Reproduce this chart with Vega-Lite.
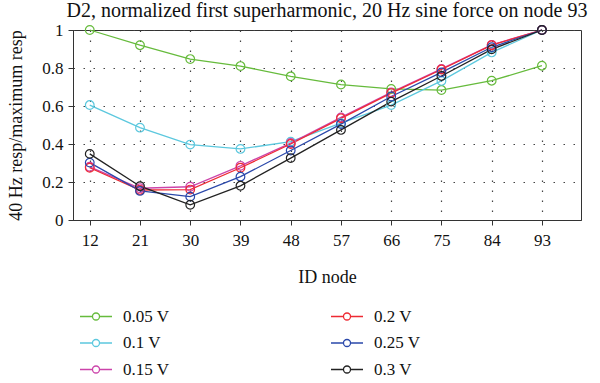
{
  "$schema": "https://vega.github.io/schema/vega-lite/v6.json",
  "width": 508,
  "height": 190,
  "autosize": {"type": "none"},
  "padding": {"left": 73, "top": 30, "right": 19, "bottom": 163},
  "background": "white",
  "title": {
    "text": "D2, normalized first superharmonic, 20 Hz sine force on node 93",
    "font": "Liberation Serif",
    "fontSize": 20,
    "fontWeight": "normal",
    "color": "#111",
    "anchor": "middle",
    "offset": 0
  },
  "config": {
    "view": {"stroke": "#333", "strokeWidth": 1},
    "axis": {
      "labelFont": "Liberation Serif",
      "titleFont": "Liberation Serif",
      "labelFontSize": 17,
      "titleFontSize": 18,
      "titleFontWeight": "normal",
      "labelColor": "#111",
      "titleColor": "#111",
      "domainColor": "#333",
      "tickColor": "#333",
      "tickSize": 5,
      "grid": true,
      "gridColor": "#444",
      "gridDash": [1.5, 8.5],
      "gridWidth": 1.2
    },
    "legend": {
      "labelFont": "Liberation Serif",
      "labelFontSize": 17,
      "labelColor": "#111"
    }
  },
  "data": {
    "values": [
      {"node": 12, "resp": 1.0, "series": "0.05 V"},
      {"node": 21, "resp": 0.92, "series": "0.05 V"},
      {"node": 30, "resp": 0.847, "series": "0.05 V"},
      {"node": 39, "resp": 0.81, "series": "0.05 V"},
      {"node": 48, "resp": 0.756, "series": "0.05 V"},
      {"node": 57, "resp": 0.713, "series": "0.05 V"},
      {"node": 66, "resp": 0.69, "series": "0.05 V"},
      {"node": 75, "resp": 0.684, "series": "0.05 V"},
      {"node": 84, "resp": 0.733, "series": "0.05 V"},
      {"node": 93, "resp": 0.812, "series": "0.05 V"},
      {"node": 12, "resp": 0.605, "series": "0.1 V"},
      {"node": 21, "resp": 0.486, "series": "0.1 V"},
      {"node": 30, "resp": 0.397, "series": "0.1 V"},
      {"node": 39, "resp": 0.374, "series": "0.1 V"},
      {"node": 48, "resp": 0.412, "series": "0.1 V"},
      {"node": 57, "resp": 0.51, "series": "0.1 V"},
      {"node": 66, "resp": 0.605, "series": "0.1 V"},
      {"node": 75, "resp": 0.732, "series": "0.1 V"},
      {"node": 84, "resp": 0.882, "series": "0.1 V"},
      {"node": 93, "resp": 1.0, "series": "0.1 V"},
      {"node": 12, "resp": 0.28, "series": "0.15 V"},
      {"node": 21, "resp": 0.167, "series": "0.15 V"},
      {"node": 30, "resp": 0.175, "series": "0.15 V"},
      {"node": 39, "resp": 0.285, "series": "0.15 V"},
      {"node": 48, "resp": 0.405, "series": "0.15 V"},
      {"node": 57, "resp": 0.54, "series": "0.15 V"},
      {"node": 66, "resp": 0.672, "series": "0.15 V"},
      {"node": 75, "resp": 0.795, "series": "0.15 V"},
      {"node": 84, "resp": 0.922, "series": "0.15 V"},
      {"node": 93, "resp": 1.0, "series": "0.15 V"},
      {"node": 12, "resp": 0.275, "series": "0.2 V"},
      {"node": 21, "resp": 0.158, "series": "0.2 V"},
      {"node": 30, "resp": 0.16, "series": "0.2 V"},
      {"node": 39, "resp": 0.275, "series": "0.2 V"},
      {"node": 48, "resp": 0.4, "series": "0.2 V"},
      {"node": 57, "resp": 0.535, "series": "0.2 V"},
      {"node": 66, "resp": 0.668, "series": "0.2 V"},
      {"node": 75, "resp": 0.792, "series": "0.2 V"},
      {"node": 84, "resp": 0.92, "series": "0.2 V"},
      {"node": 93, "resp": 1.0, "series": "0.2 V"},
      {"node": 12, "resp": 0.302, "series": "0.25 V"},
      {"node": 21, "resp": 0.153, "series": "0.25 V"},
      {"node": 30, "resp": 0.123, "series": "0.25 V"},
      {"node": 39, "resp": 0.228, "series": "0.25 V"},
      {"node": 48, "resp": 0.366, "series": "0.25 V"},
      {"node": 57, "resp": 0.505, "series": "0.25 V"},
      {"node": 66, "resp": 0.65, "series": "0.25 V"},
      {"node": 75, "resp": 0.777, "series": "0.25 V"},
      {"node": 84, "resp": 0.909, "series": "0.25 V"},
      {"node": 93, "resp": 1.0, "series": "0.25 V"},
      {"node": 12, "resp": 0.348, "series": "0.3 V"},
      {"node": 21, "resp": 0.178, "series": "0.3 V"},
      {"node": 30, "resp": 0.08, "series": "0.3 V"},
      {"node": 39, "resp": 0.18, "series": "0.3 V"},
      {"node": 48, "resp": 0.326, "series": "0.3 V"},
      {"node": 57, "resp": 0.474, "series": "0.3 V"},
      {"node": 66, "resp": 0.623, "series": "0.3 V"},
      {"node": 75, "resp": 0.758, "series": "0.3 V"},
      {"node": 84, "resp": 0.898, "series": "0.3 V"},
      {"node": 93, "resp": 1.0, "series": "0.3 V"}
    ]
  },
  "encoding": {
    "x": {
      "field": "node",
      "type": "quantitative",
      "scale": {"domain": [9, 100], "nice": false, "zero": false},
      "axis": {
        "title": "ID node",
        "values": [12, 21, 30, 39, 48, 57, 66, 75, 84, 93],
        "labelPadding": 7,
        "titlePadding": 20
      }
    },
    "y": {
      "field": "resp",
      "type": "quantitative",
      "scale": {"domain": [0, 1], "nice": false},
      "axis": {
        "title": "40 Hz resp/maximum resp",
        "values": [0, 0.2, 0.4, 0.6, 0.8, 1],
        "format": "~g",
        "labelPadding": 5,
        "titlePadding": 16
      }
    },
    "color": {
      "field": "series",
      "type": "nominal",
      "scale": {
        "domain": ["0.05 V", "0.1 V", "0.15 V", "0.2 V", "0.25 V", "0.3 V"],
        "range": ["#66bb3c", "#5cc8de", "#cc44aa", "#ee2a33", "#2a48aa", "#222222"]
      },
      "legend": {
        "title": null,
        "orient": "none",
        "legendX": 14,
        "legendY": 277.5,
        "columns": 2,
        "columnPadding": 158,
        "rowPadding": 9.5,
        "symbolType": "M-2,0H-0.44M0.44,0A0.44,0.44 0 1,1 -0.44,0A0.44,0.44 0 1,1 0.44,0M0.44,0H2",
        "symbolSize": 256,
        "symbolStrokeWidth": 1.3,
        "symbolFillColor": "transparent",
        "labelOffset": 18,
        "labelLimit": 200,
        "encode": {"symbols": {"update": {"fill": {"value": "transparent"}}}}
      }
    }
  },
  "layer": [
    {"mark": {"type": "line", "strokeWidth": 1.3}},
    {"mark": {"type": "point", "shape": "circle", "filled": false, "size": 75, "strokeWidth": 1.2, "opacity": 1}}
  ]
}
